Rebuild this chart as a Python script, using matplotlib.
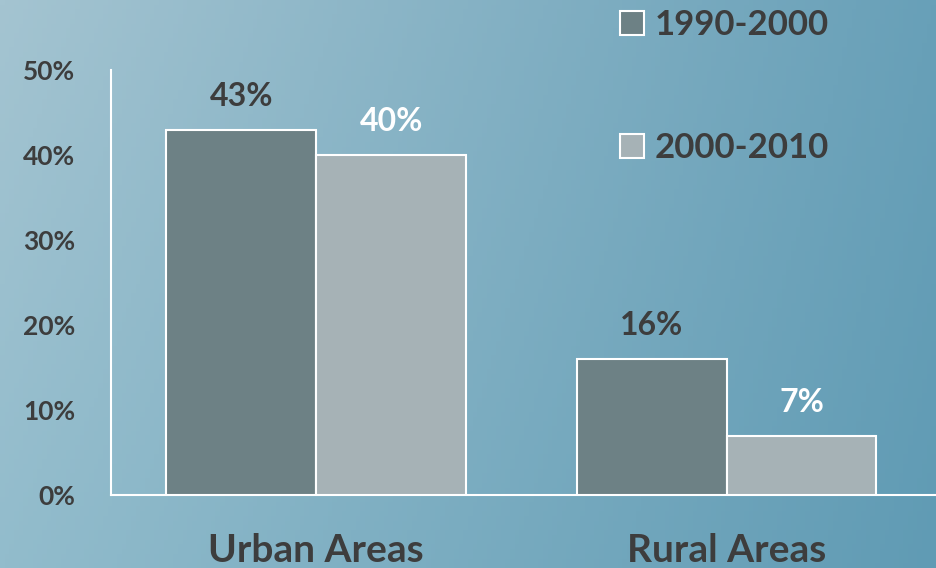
import numpy as np
import matplotlib.pyplot as plt
from matplotlib.patches import Rectangle

plt.rcParams['font.family'] = ['Lato', 'DejaVu Sans']

# 数据
categories = ['Urban Areas', 'Rural Areas']
series_names = ['1990-2000', '2000-2010']
values_1990 = [43, 16]
values_2000 = [40, 7]
yticks = [0, 10, 20, 30, 40, 50]

dark = '#6d8185'
light = '#a6b2b6'
txt = '#3d3d3d'

fig = plt.figure(figsize=(9.36, 5.68), dpi=100)

# 背景渐变
bg = fig.add_axes([0, 0, 1, 1], zorder=-10)
tl = np.array([164, 196, 209]) / 255
tr = np.array([104, 160, 184]) / 255
bl = np.array([146, 188, 204]) / 255
br = np.array([96, 155, 180]) / 255
u = np.linspace(0, 1, 200)[None, :, None]
v = np.linspace(0, 1, 120)[:, None, None]
img = (1 - v) * ((1 - u) * tl + u * tr) + v * ((1 - u) * bl + u * br)
bg.imshow(img, aspect='auto', extent=[0, 1, 0, 1], origin='upper')
bg.axis('off')

ax = fig.add_axes([111 / 936, 73 / 568, 1 - 111 / 936, 425 / 568])
ax.patch.set_alpha(0)

x = np.arange(len(categories))
w = 0.365
ax.bar(x - w / 2, values_1990, w, color=dark, edgecolor='white', linewidth=1.5, zorder=3)
ax.bar(x + w / 2, values_2000, w, color=light, edgecolor='white', linewidth=1.5, zorder=3)

for xi, v1, v2 in zip(x, values_1990, values_2000):
    ax.text(xi - w / 2, v1 + 3.9, f'{v1}%', ha='center', va='center', fontsize=23,
            fontweight='bold', color=txt)
    ax.text(xi + w / 2, v2 + 3.9, f'{v2}%', ha='center', va='center', fontsize=23,
            fontweight='bold', color='white')

ax.set_xlim(-0.5, 1.51)
ax.set_ylim(0, 50)
ax.set_yticks(yticks)
ax.set_yticklabels([f'{t}%' for t in yticks], fontsize=19, fontweight='bold', color=txt)
ax.set_xticks(x)
ax.set_xticklabels(categories, fontsize=28, fontweight='bold', color=txt)
ax.tick_params(axis='y', length=0, pad=26)
ax.tick_params(axis='x', length=0, pad=27)
for s in ['top', 'right']:
    ax.spines[s].set_visible(False)
for s in ['left', 'bottom']:
    ax.spines[s].set_color('white')
    ax.spines[s].set_linewidth(1.5)

# 图例
for name, col, yy in zip(series_names, [dark, light], [23, 146]):
    fy = 1 - yy / 568
    fig.patches.append(Rectangle((620 / 936, fy - 12 / 568), 24 / 936, 24 / 568,
                                 transform=fig.transFigure, facecolor=col,
                                 edgecolor='white', linewidth=1.5))
    fig.text(655 / 936, fy - 2 / 568, name, ha='left', va='center', fontsize=25,
             fontweight='bold', color=txt)

fig.savefig('out.png', dpi=100)
